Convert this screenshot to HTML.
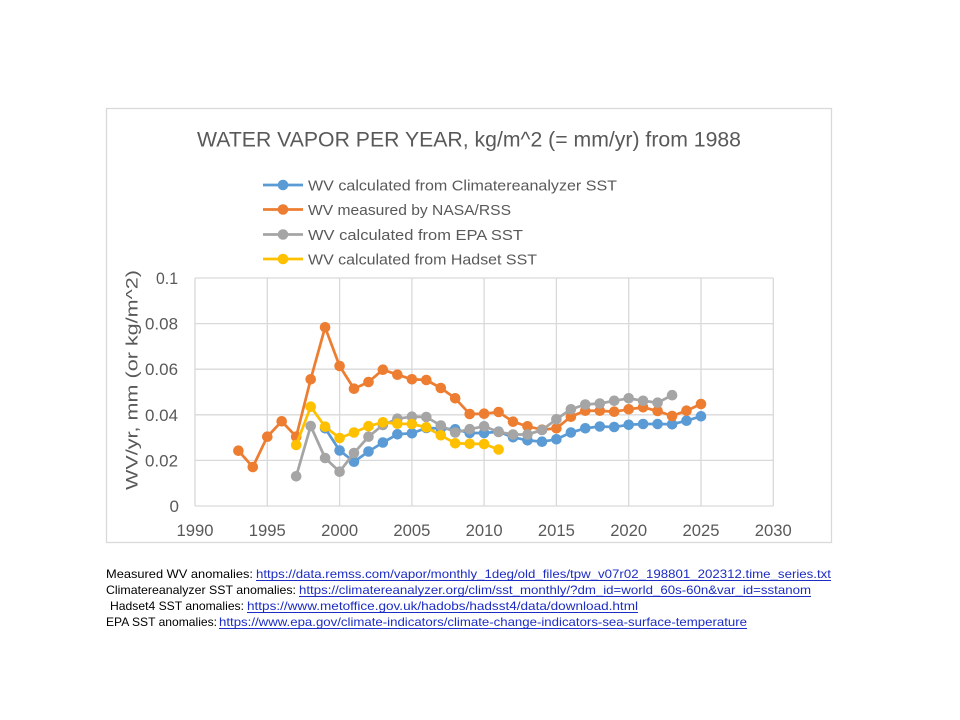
<!DOCTYPE html>
<html><head><meta charset="utf-8"><style>
html,body{margin:0;padding:0;background:#fff;}
svg{display:block;}
text{font-family:"Liberation Sans",sans-serif;}
</style></head><body>
<svg width="960" height="720" viewBox="0 0 960 720" xmlns="http://www.w3.org/2000/svg">
<rect x="0" y="0" width="960" height="720" fill="#fff"/>
<rect x="106.5" y="108.5" width="725" height="434" fill="#fff" stroke="#D9D9D9" stroke-width="1.3"/>
<text x="197" y="146.7" font-size="21" fill="#595959" textLength="544" lengthAdjust="spacingAndGlyphs">WATER VAPOR PER YEAR, kg/m^2  (= mm/yr) from 1988</text>
<g stroke-width="2.75" fill="none">
<line x1="263" y1="185" x2="303" y2="185" stroke="#5B9BD5"/>
<line x1="263" y1="209.5" x2="303" y2="209.5" stroke="#ED7D31"/>
<line x1="263" y1="234.5" x2="303" y2="234.5" stroke="#A5A5A5"/>
<line x1="263" y1="259" x2="303" y2="259" stroke="#FFC000"/>
</g>
<circle cx="283" cy="185" r="5.3" fill="#5B9BD5"/>
<circle cx="283" cy="209.5" r="5.3" fill="#ED7D31"/>
<circle cx="283" cy="234.5" r="5.3" fill="#A5A5A5"/>
<circle cx="283" cy="259" r="5.3" fill="#FFC000"/>
<g font-size="15" fill="#595959">
<text x="308" y="190.5" textLength="309" lengthAdjust="spacingAndGlyphs">WV calculated from Climatereanalyzer SST</text>
<text x="308" y="215" textLength="203" lengthAdjust="spacingAndGlyphs">WV measured by NASA/RSS</text>
<text x="308" y="240" textLength="215" lengthAdjust="spacingAndGlyphs">WV calculated from EPA SST</text>
<text x="308" y="264.5" textLength="229" lengthAdjust="spacingAndGlyphs">WV calculated from Hadset SST</text>
</g>
<g stroke="#D9D9D9" stroke-width="1.3">
<line x1="195" y1="278" x2="773.3" y2="278"/>
<line x1="195" y1="323.6" x2="773.3" y2="323.6"/>
<line x1="195" y1="369.2" x2="773.3" y2="369.2"/>
<line x1="195" y1="414.8" x2="773.3" y2="414.8"/>
<line x1="195" y1="460.4" x2="773.3" y2="460.4"/>
<line x1="195" y1="506" x2="773.3" y2="506"/>
<line x1="195" y1="278" x2="195" y2="506"/>
<line x1="267.3" y1="278" x2="267.3" y2="506"/>
<line x1="339.6" y1="278" x2="339.6" y2="506"/>
<line x1="411.9" y1="278" x2="411.9" y2="506"/>
<line x1="484.1" y1="278" x2="484.1" y2="506"/>
<line x1="556.4" y1="278" x2="556.4" y2="506"/>
<line x1="628.7" y1="278" x2="628.7" y2="506"/>
<line x1="701" y1="278" x2="701" y2="506"/>
<line x1="773.3" y1="278" x2="773.3" y2="506"/>
</g>
<g font-size="17" fill="#595959" text-anchor="end">
<text x="178" y="284" textLength="22" lengthAdjust="spacingAndGlyphs">0.1</text>
<text x="178" y="329.6" textLength="33" lengthAdjust="spacingAndGlyphs">0.08</text>
<text x="178" y="375.2" textLength="33" lengthAdjust="spacingAndGlyphs">0.06</text>
<text x="178" y="420.8" textLength="33" lengthAdjust="spacingAndGlyphs">0.04</text>
<text x="178" y="466.4" textLength="33" lengthAdjust="spacingAndGlyphs">0.02</text>
<text x="179" y="512">0</text>
</g>
<g font-size="17" fill="#595959" text-anchor="middle">
<text x="195" y="536" textLength="37" lengthAdjust="spacingAndGlyphs">1990</text>
<text x="267.3" y="536" textLength="37" lengthAdjust="spacingAndGlyphs">1995</text>
<text x="339.6" y="536" textLength="37" lengthAdjust="spacingAndGlyphs">2000</text>
<text x="411.9" y="536" textLength="37" lengthAdjust="spacingAndGlyphs">2005</text>
<text x="484.1" y="536" textLength="37" lengthAdjust="spacingAndGlyphs">2010</text>
<text x="556.4" y="536" textLength="37" lengthAdjust="spacingAndGlyphs">2015</text>
<text x="628.7" y="536" textLength="37" lengthAdjust="spacingAndGlyphs">2020</text>
<text x="701" y="536" textLength="37" lengthAdjust="spacingAndGlyphs">2025</text>
<text x="773.3" y="536" textLength="37" lengthAdjust="spacingAndGlyphs">2030</text>
</g>
<text transform="translate(137.5,380) rotate(-90)" font-size="17" fill="#595959" text-anchor="middle" textLength="220" lengthAdjust="spacingAndGlyphs">WV/yr, mm (or kg/m^2)</text>

<!-- Blue series -->
<polyline fill="none" stroke="#5B9BD5" stroke-width="2.75" stroke-linejoin="round" points="325.1,428.3 339.6,450.5 354,461.7 368.5,451.5 382.9,442.5 397.4,434.3 411.9,433.3 426.3,428 440.8,428.5 455.2,429.3 469.7,433 484.1,433 498.6,431.7 513,437.3 527.5,440.3 542,441.7 556.4,439.3 570.9,432.5 585.3,428.3 599.8,426.5 614.2,427 628.7,424.8 643.1,424 657.6,424 672.1,424.3 686.5,420.7 701,416.3"/>
<g fill="#5B9BD5">
<circle cx="325.1" cy="428.3" r="5.3"/><circle cx="339.6" cy="450.5" r="5.3"/><circle cx="354" cy="461.7" r="5.3"/><circle cx="368.5" cy="451.5" r="5.3"/><circle cx="382.9" cy="442.5" r="5.3"/><circle cx="397.4" cy="434.3" r="5.3"/><circle cx="411.9" cy="433.3" r="5.3"/><circle cx="426.3" cy="428" r="5.3"/><circle cx="440.8" cy="428.5" r="5.3"/><circle cx="455.2" cy="429.3" r="5.3"/><circle cx="469.7" cy="433" r="5.3"/><circle cx="484.1" cy="433" r="5.3"/><circle cx="498.6" cy="431.7" r="5.3"/><circle cx="513" cy="437.3" r="5.3"/><circle cx="527.5" cy="440.3" r="5.3"/><circle cx="542" cy="441.7" r="5.3"/><circle cx="556.4" cy="439.3" r="5.3"/><circle cx="570.9" cy="432.5" r="5.3"/><circle cx="585.3" cy="428.3" r="5.3"/><circle cx="599.8" cy="426.5" r="5.3"/><circle cx="614.2" cy="427" r="5.3"/><circle cx="628.7" cy="424.8" r="5.3"/><circle cx="643.1" cy="424" r="5.3"/><circle cx="657.6" cy="424" r="5.3"/><circle cx="672.1" cy="424.3" r="5.3"/><circle cx="686.5" cy="420.7" r="5.3"/><circle cx="701" cy="416.3" r="5.3"/>
</g>

<!-- Orange series -->
<polyline fill="none" stroke="#ED7D31" stroke-width="2.75" stroke-linejoin="round" points="238.4,450.7 252.8,467 267.3,436.7 281.7,421.3 296.2,436.7 310.7,379.3 325.1,327.3 339.6,366 354,388.7 368.5,382 382.9,369.7 397.4,374.7 411.9,379.3 426.3,380 440.8,388 455.2,398.3 469.7,414 484.1,413.7 498.6,412 513,421.7 527.5,426.3 542,429.7 556.4,428.3 570.9,416.7 585.3,410.7 599.8,410.7 614.2,411.7 628.7,409.3 643.1,407.3 657.6,411 672.1,416 686.5,410.7 701,404"/>
<g fill="#ED7D31">
<circle cx="238.4" cy="450.7" r="5.3"/><circle cx="252.8" cy="467" r="5.3"/><circle cx="267.3" cy="436.7" r="5.3"/><circle cx="281.7" cy="421.3" r="5.3"/><circle cx="296.2" cy="436.7" r="5.3"/><circle cx="310.7" cy="379.3" r="5.3"/><circle cx="325.1" cy="327.3" r="5.3"/><circle cx="339.6" cy="366" r="5.3"/><circle cx="354" cy="388.7" r="5.3"/><circle cx="368.5" cy="382" r="5.3"/><circle cx="382.9" cy="369.7" r="5.3"/><circle cx="397.4" cy="374.7" r="5.3"/><circle cx="411.9" cy="379.3" r="5.3"/><circle cx="426.3" cy="380" r="5.3"/><circle cx="440.8" cy="388" r="5.3"/><circle cx="455.2" cy="398.3" r="5.3"/><circle cx="469.7" cy="414" r="5.3"/><circle cx="484.1" cy="413.7" r="5.3"/><circle cx="498.6" cy="412" r="5.3"/><circle cx="513" cy="421.7" r="5.3"/><circle cx="527.5" cy="426.3" r="5.3"/><circle cx="542" cy="429.7" r="5.3"/><circle cx="556.4" cy="428.3" r="5.3"/><circle cx="570.9" cy="416.7" r="5.3"/><circle cx="585.3" cy="410.7" r="5.3"/><circle cx="599.8" cy="410.7" r="5.3"/><circle cx="614.2" cy="411.7" r="5.3"/><circle cx="628.7" cy="409.3" r="5.3"/><circle cx="643.1" cy="407.3" r="5.3"/><circle cx="657.6" cy="411" r="5.3"/><circle cx="672.1" cy="416" r="5.3"/><circle cx="686.5" cy="410.7" r="5.3"/><circle cx="701" cy="404" r="5.3"/>
</g>

<!-- Gray series -->
<polyline fill="none" stroke="#A5A5A5" stroke-width="2.75" stroke-linejoin="round" points="296.2,476.3 310.7,426 325.1,458 339.6,471.7 354,453 368.5,436.7 382.9,425 397.4,418.7 411.9,416.7 426.3,417 440.8,425.5 455.2,432.5 469.7,429.2 484.1,426.3 498.6,432 513,434.5 527.5,434.5 542,430 556.4,419.3 570.9,409.3 585.3,404.5 599.8,403.5 614.2,400.8 628.7,398.3 643.1,400.8 657.6,402.7 672.1,395.2"/>
<g fill="#A5A5A5">
<circle cx="296.2" cy="476.3" r="5.3"/><circle cx="310.7" cy="426" r="5.3"/><circle cx="325.1" cy="458" r="5.3"/><circle cx="339.6" cy="471.7" r="5.3"/><circle cx="354" cy="453" r="5.3"/><circle cx="368.5" cy="436.7" r="5.3"/><circle cx="382.9" cy="425" r="5.3"/><circle cx="397.4" cy="418.7" r="5.3"/><circle cx="411.9" cy="416.7" r="5.3"/><circle cx="426.3" cy="417" r="5.3"/><circle cx="440.8" cy="425.5" r="5.3"/><circle cx="455.2" cy="432.5" r="5.3"/><circle cx="469.7" cy="429.2" r="5.3"/><circle cx="484.1" cy="426.3" r="5.3"/><circle cx="498.6" cy="432" r="5.3"/><circle cx="513" cy="434.5" r="5.3"/><circle cx="527.5" cy="434.5" r="5.3"/><circle cx="542" cy="430" r="5.3"/><circle cx="556.4" cy="419.3" r="5.3"/><circle cx="570.9" cy="409.3" r="5.3"/><circle cx="585.3" cy="404.5" r="5.3"/><circle cx="599.8" cy="403.5" r="5.3"/><circle cx="614.2" cy="400.8" r="5.3"/><circle cx="628.7" cy="398.3" r="5.3"/><circle cx="643.1" cy="400.8" r="5.3"/><circle cx="657.6" cy="402.7" r="5.3"/><circle cx="672.1" cy="395.2" r="5.3"/>
</g>

<!-- Yellow series -->
<polyline fill="none" stroke="#FFC000" stroke-width="2.75" stroke-linejoin="round" points="296.2,445 310.7,406.7 325.1,426.7 339.6,438 354,432.5 368.5,426.2 382.9,422.3 397.4,423.7 411.9,424 426.3,427.3 440.8,435.3 455.2,443.3 469.7,443.8 484.1,444 498.6,449.5"/>
<g fill="#FFC000">
<circle cx="296.2" cy="445" r="5.3"/><circle cx="310.7" cy="406.7" r="5.3"/><circle cx="325.1" cy="426.7" r="5.3"/><circle cx="339.6" cy="438" r="5.3"/><circle cx="354" cy="432.5" r="5.3"/><circle cx="368.5" cy="426.2" r="5.3"/><circle cx="382.9" cy="422.3" r="5.3"/><circle cx="397.4" cy="423.7" r="5.3"/><circle cx="411.9" cy="424" r="5.3"/><circle cx="426.3" cy="427.3" r="5.3"/><circle cx="440.8" cy="435.3" r="5.3"/><circle cx="455.2" cy="443.3" r="5.3"/><circle cx="469.7" cy="443.8" r="5.3"/><circle cx="484.1" cy="444" r="5.3"/><circle cx="498.6" cy="449.5" r="5.3"/>
</g>

<!-- Footer -->
<g font-size="12" fill="#000">
<text x="106" y="578" textLength="147" lengthAdjust="spacingAndGlyphs">Measured WV anomalies:</text>
<text x="106" y="594" textLength="190" lengthAdjust="spacingAndGlyphs">Climatereanalyzer SST anomalies:</text>
<text x="110" y="610" textLength="134" lengthAdjust="spacingAndGlyphs">Hadset4 SST anomalies:</text>
<text x="106" y="626" textLength="111" lengthAdjust="spacingAndGlyphs">EPA SST anomalies:</text>
</g>
<g font-size="12" fill="#1C2CC4">
<text x="256" y="578" textLength="575" lengthAdjust="spacingAndGlyphs">https://data.remss.com/vapor/monthly_1deg/old_files/tpw_v07r02_198801_202312.time_series.txt</text>
<text x="299" y="594" textLength="512" lengthAdjust="spacingAndGlyphs">https://climatereanalyzer.org/clim/sst_monthly/?dm_id=world_60s-60n&amp;var_id=sstanom</text>
<text x="247" y="610" textLength="391" lengthAdjust="spacingAndGlyphs">https://www.metoffice.gov.uk/hadobs/hadsst4/data/download.html</text>
<text x="219" y="626" textLength="528" lengthAdjust="spacingAndGlyphs">https://www.epa.gov/climate-indicators/climate-change-indicators-sea-surface-temperature</text>
</g>
<g stroke="#1C2CC4" stroke-width="1">
<line x1="256" y1="580.5" x2="831" y2="580.5"/>
<line x1="299" y1="596.5" x2="811" y2="596.5"/>
<line x1="247" y1="612.5" x2="638" y2="612.5"/>
<line x1="219" y1="628.5" x2="747" y2="628.5"/>
</g>
</svg>
</body></html>
